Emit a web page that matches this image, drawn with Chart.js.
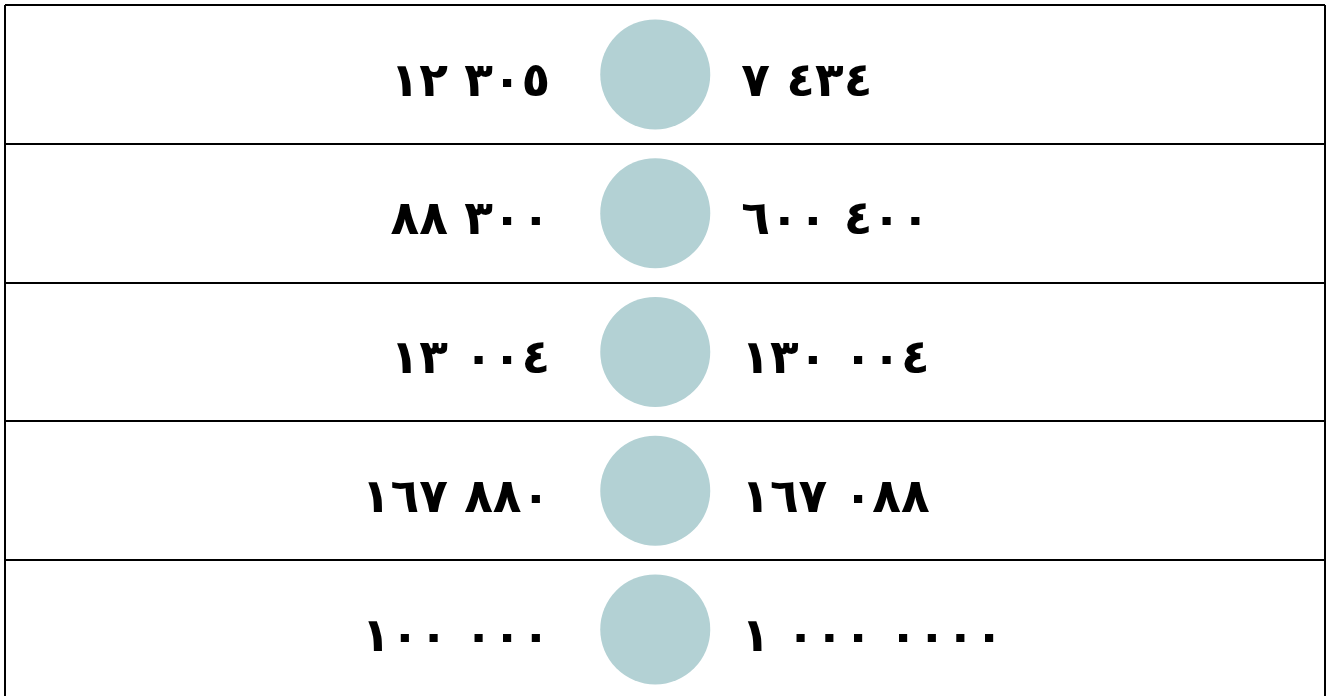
<!DOCTYPE html>
<html>
<head>
<meta charset="utf-8">
<script src="https://cdn.jsdelivr.net/npm/chart.js@4/dist/chart.umd.min.js"></script>
<style>
  html, body { margin: 0; padding: 0; background: #ffffff; }
  #c { display: block; }
</style>
</head>
<body>
<canvas id="c" width="1330" height="696"></canvas>
<script>
// Left-hand numbers, one per table row (as printed)
const leftNumbers  = ['١٢ ٣٠٥', '٨٨ ٣٠٠', '١٣ ٠٠٤', '١٦٧ ٨٨٠', '١٠٠ ٠٠٠'];
// Right-hand numbers, one per table row (as printed)
const rightNumbers = ['٧ ٤٣٤', '٦٠٠ ٤٠٠', '١٣٠ ٠٠٤', '١٦٧ ٠٨٨', '١ ٠٠٠ ٠٠٠٠'];
// Row index of each comparison circle
const rowIndex = [0, 1, 2, 3, 4];
// Row boundaries (table lines) in row units
const rowBoundaries = [-0.5, 0.5, 1.5, 2.5, 3.5];

const CIRCLE = 'rgb(179,209,212)';
const FONT = 'bold 47px "DejaVu Sans"';

// keep digit groups in printed (left-to-right) order
const ltr = s => s.split(' ').join('\u200E \u200E');

const numberLabels = {
  id: 'numberLabels',
  afterDatasetsDraw(chart) {
    const ctx = chart.ctx;
    const xs = chart.scales.x, ys = chart.scales.y;
    ctx.save();
    ctx.font = FONT;
    ctx.fillStyle = '#000000';
    ctx.textBaseline = 'middle';
    ctx.direction = 'ltr';
    const cx = xs.getPixelForValue(0);
    rowIndex.forEach((r, i) => {
      const cy = ys.getPixelForValue(r) + 9;
      ctx.textAlign = 'right';
      ctx.fillText(ltr(leftNumbers[i]), cx - 105, cy);
      ctx.textAlign = 'left';
      ctx.fillText(ltr(rightNumbers[i]), cx + 86, cy);
    });
    ctx.restore();
  }
};

new Chart(document.getElementById('c'), {
  type: 'scatter',
  data: {
    datasets: [{
      data: rowIndex.map(r => ({ x: 0, y: r })),
      backgroundColor: CIRCLE,
      borderWidth: 0,
      pointRadius: 55,
      pointHoverRadius: 55,
      pointBorderWidth: 0,
      clip: false
    }]
  },
  options: {
    responsive: false,
    animation: false,
    events: [],
    layout: { autoPadding: false, padding: { top: 5, left: 5, right: 5, bottom: 0 } },
    plugins: { legend: { display: false }, tooltip: { enabled: false } },
    scales: {
      x: {
        type: 'linear',
        min: -1,
        max: 1.03,
        afterBuildTicks: s => { s.ticks = [{ value: s.min }, { value: s.max }]; },
        ticks: { display: false },
        grid: { color: '#000000', lineWidth: 2, drawTicks: false },
        border: { display: false }
      },
      y: {
        type: 'linear',
        reverse: true,
        min: -0.5,
        max: 4.48,
        afterBuildTicks: s => { s.ticks = rowBoundaries.map(v => ({ value: v })); },
        ticks: { display: false },
        grid: { color: '#000000', lineWidth: 2, drawTicks: false },
        border: { display: false }
      }
    }
  },
  plugins: [numberLabels]
});
</script>
</body>
</html>
